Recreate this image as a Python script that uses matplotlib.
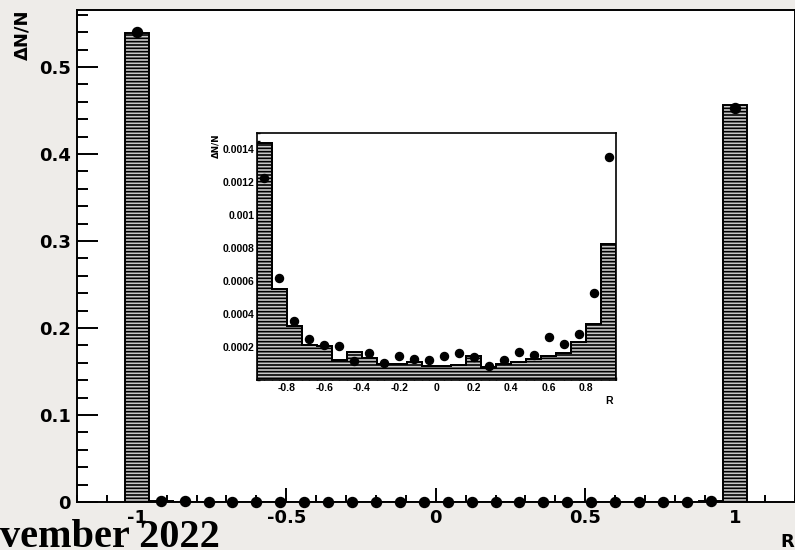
import numpy as np
import matplotlib
matplotlib.use("Agg")
import matplotlib.pyplot as plt
from matplotlib.ticker import MultipleLocator, FixedLocator

plt.rcParams["axes.unicode_minus"] = False
plt.rcParams["font.family"] = "DejaVu Sans"
plt.rcParams["font.weight"] = "bold"
plt.rcParams["hatch.linewidth"] = 1.2
plt.rcParams["hatch.color"] = "black"

# Bin centres (width 0.08) of the interior region -0.96 .. 0.96
inner_centers = [-0.92, -0.84, -0.76, -0.68, -0.60, -0.52, -0.44, -0.36,
                 -0.28, -0.20, -0.12, -0.04, 0.04, 0.12, 0.20, 0.28,
                 0.36, 0.44, 0.52, 0.60, 0.68, 0.76, 0.84, 0.92]
inner_edges = [-0.96, -0.88, -0.80, -0.72, -0.64, -0.56, -0.48, -0.40,
               -0.32, -0.24, -0.16, -0.08, 0.00, 0.08, 0.16, 0.24,
               0.32, 0.40, 0.48, 0.56, 0.64, 0.72, 0.80, 0.88, 0.96]

# Simulated distribution (hatched histogram), interior bins
sim_inner = [0.001440, 0.000553, 0.000327, 0.000210, 0.000204, 0.000124,
             0.000173, 0.000133, 0.000098, 0.000098, 0.000108, 0.000082,
             0.000082, 0.000092, 0.000143, 0.000078, 0.000098, 0.000108,
             0.000129, 0.000143, 0.000163, 0.000231, 0.000339, 0.000827]
# Measured distribution (points), interior bins
data_inner = [0.001224, 0.000618, 0.000357, 0.000249, 0.000214, 0.000204,
              0.000114, 0.000163, 0.000102, 0.000143, 0.000129, 0.000124,
              0.000143, 0.000163, 0.000139, 0.000084, 0.000124, 0.000173,
              0.000153, 0.000259, 0.000216, 0.000278, 0.000527, 0.001357]

# End bins at R = -1 and R = +1
end_centers = [-1.0, 1.0]
sim_ends = [0.539, 0.456]
data_ends = [0.540, 0.453]

main_centers = [end_centers[0]] + inner_centers + [end_centers[1]]
main_sim = [sim_ends[0]] + sim_inner + [sim_ends[1]]
main_data = [data_ends[0]] + data_inner + [data_ends[1]]
bin_width = 0.08

W, H = 795, 550
fig = plt.figure(figsize=(W / 100, H / 100), dpi=100)
fig.patch.set_facecolor("#eeece9")

# ---- main panel ----
ax = fig.add_axes([77 / W, 48 / H, 717.5 / W, 492 / H])
ax.set_facecolor("white")
ax.bar(main_centers, main_sim, width=bin_width, facecolor="#c8c8c8",
       edgecolor="black", linewidth=1.4, hatch="-----", zorder=2)
ax.plot(main_centers, main_data, "o", color="black", markersize=7.2, zorder=4,
        clip_on=False)
ax.set_xlim(-1.2, 1.2)
ax.set_ylim(0, 0.5655)

ax.xaxis.set_major_locator(FixedLocator([-1, -0.5, 0, 0.5, 1]))
ax.set_xticklabels(["-1", "-0.5", "0", "0.5", "1"])
ax.xaxis.set_minor_locator(MultipleLocator(0.1))
ax.yaxis.set_major_locator(FixedLocator([0, 0.1, 0.2, 0.3, 0.4, 0.5]))
ax.set_yticklabels(["0", "0.1", "0.2", "0.3", "0.4", "0.5"])
ax.yaxis.set_minor_locator(MultipleLocator(0.02))
ax.tick_params(axis="both", which="both", direction="in", width=1.4,
               labelsize=13, top=False, right=False)
ax.tick_params(axis="x", which="major", length=10, pad=5)
ax.tick_params(axis="x", which="minor", length=5)
ax.tick_params(axis="y", which="major", length=15, pad=4.5)
ax.tick_params(axis="y", which="minor", length=7.7)
for s in ax.spines.values():
    s.set_linewidth(1.4)

ax.set_ylabel("ΔN/N", loc="top", fontsize=13, fontweight="bold")
ax.yaxis.set_label_coords(-0.063, 1.0)
ax.set_xlabel("R", loc="right", fontsize=13, fontweight="bold")
ax.xaxis.set_label_coords(1.0, -0.064)
ax.xaxis.label.set_verticalalignment("top")

# ---- inset: zoom on the interior region ----
inset_font = {"family": "Liberation Sans", "weight": "bold", "size": 7.5}
ins = fig.add_axes([257 / W, 170 / H, 359 / W, 247 / H])
ins.set_facecolor("white")
ins.stairs(sim_inner, inner_edges, fill=True, facecolor="#c8c8c8",
           edgecolor="black", linewidth=1.2, hatch="-----", zorder=2)
ins.stairs(sim_inner, inner_edges, fill=False, color="black", linewidth=1.4,
           zorder=3)
ins.plot(inner_centers, data_inner, "o", color="black", markersize=5.8,
         zorder=4)
ins.set_xlim(-0.96, 0.96)
ins.set_ylim(0, 0.0015)
ins.xaxis.set_major_locator(FixedLocator([-0.8, -0.6, -0.4, -0.2, 0, 0.2, 0.4, 0.6, 0.8]))
ins.set_xticklabels(["-0.8", "-0.6", "-0.4", "-0.2", "0", "0.2", "0.4", "0.6", "0.8"],
                    fontdict=inset_font)
ins.xaxis.set_minor_locator(MultipleLocator(0.04))
ins.yaxis.set_major_locator(FixedLocator([0.0002, 0.0004, 0.0006, 0.0008, 0.001, 0.0012, 0.0014]))
ins.set_yticklabels(["0.0002", "0.0004", "0.0006", "0.0008", "0.001", "0.0012", "0.0014"],
                    fontdict=inset_font)
ins.yaxis.set_minor_locator(MultipleLocator(0.00005))
ins.tick_params(axis="both", which="both", direction="in", width=1.0,
                top=False, right=False)
ins.tick_params(axis="both", which="major", length=5, pad=2)
ins.tick_params(axis="both", which="minor", length=2.5)
for s in ins.spines.values():
    s.set_linewidth(1.2)
ins.set_ylabel("ΔN/N", loc="top", fontsize=6.3, fontweight="bold")
ins.yaxis.set_label_coords(-0.103, 1.0)
ins.set_xlabel("R", loc="right", fontdict=inset_font)
ins.xaxis.set_label_coords(0.99, -0.065)
ins.xaxis.label.set_verticalalignment("top")

fig.text(0.0, 3 / H, "vember 2022", ha="left", va="baseline",
         family="Liberation Serif", fontweight="bold", fontsize=29)

fig.savefig("out.png", dpi=100, facecolor=fig.get_facecolor())
